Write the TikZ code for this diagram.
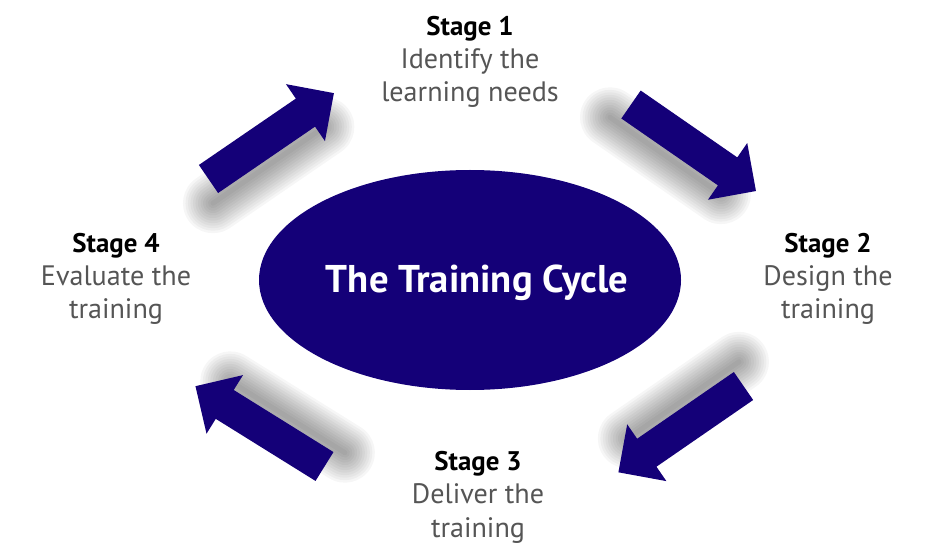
\documentclass[tikz,border=0pt]{standalone}
\usepackage{fontspec}
\setmainfont{PT Sans}
\usetikzlibrary{shapes.geometric}
\definecolor{cyclenavy}{RGB}{20,0,120}
\definecolor{stagegray}{RGB}{85,85,85}
\tikzset{
    cyclearrow/.pic={
        % soft shadow, set back and to the right of the arrow
        \foreach \w in {0.1,0.2,...,1.2}
            \draw[arrowshadow, line width=\w cm] (-0.2,-0.45) -- (2.5,-0.45);
        \fill[cyclenavy] (0,-0.34) -- (2.35,-0.34) -- (2.35,-0.69) -- (3.04,0)
            -- (2.35,0.69) -- (2.35,0.34) -- (0,0.34) -- cycle;
    }
}
\begin{document}
\begin{tikzpicture}[
    arrowshadow/.style={black, opacity=0.034, line cap=round},
    stage/.style={align=center, anchor=base, text=stagegray,
        font=\fontsize{16}{18.8}\selectfont},
    title/.style={ellipse, fill=cyclenavy, minimum width=8.44cm, minimum height=4.4cm,
        inner sep=0pt} ]
    % --- Arrows round the cycle ---
    \pic[rotate=34.4] at (4.17, 7.56) {cyclearrow};
    \pic[rotate=-34.7] at (12.62, 9.05) {cyclearrow};
    \pic[rotate=214.6] at (14.87, 3.42) {cyclearrow};
    \pic[rotate=148.1] at (6.49, 1.81) {cyclearrow};

    % --- Centre ---
    \node[title] (cycle) at (9.4, 5.54) {};
    \node[text=white, anchor=base, font=\fontsize{22}{26}\selectfont\bfseries]
        (cyclename) at (9.54, 5.28) {The Training Cycle};

    % --- Stages (placed at the baseline of the last line) ---
    \node[stage] (stage1) at (9.4, 9.1)
        {{\color{black}\fontsize{15.3}{18.8}\selectfont\bfseries Stage 1}\\ Identify the\\ learning needs};
    \node[stage] (stage2) at (16.56, 4.77)
        {{\color{black}\fontsize{15.3}{18.8}\selectfont\bfseries Stage 2}\\ Design the\\ training};
    \node[stage] (stage3) at (9.56, 0.4)
        {{\color{black}\fontsize{15.3}{18.8}\selectfont\bfseries Stage 3}\\ Deliver the\\ training};
    \node[stage] (stage4) at (2.32, 4.77)
        {{\color{black}\fontsize{15.3}{18.8}\selectfont\bfseries Stage 4}\\ Evaluate the\\ training};

    % Bounding box for padding
    \useasboundingbox (0, 0) rectangle (18.8, 11.14);
\end{tikzpicture}
\end{document}
